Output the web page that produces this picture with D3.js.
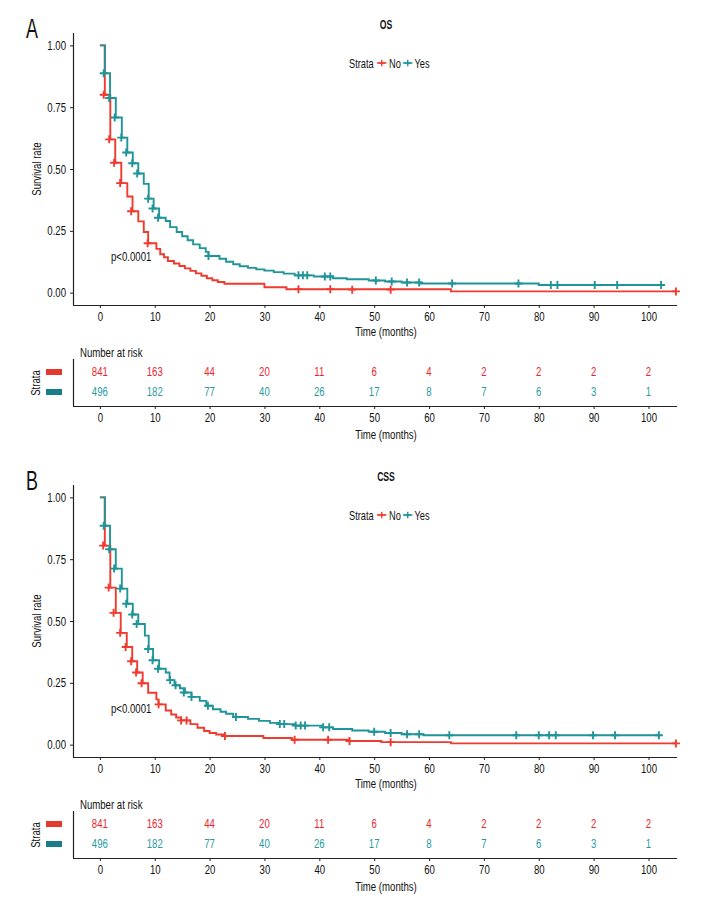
<!DOCTYPE html>
<html><head><meta charset="utf-8">
<script src="https://cdn.jsdelivr.net/npm/d3@7"></script>
<style>
body{margin:0;background:#fff}
svg text{font-family:"Liberation Sans",Arial,sans-serif;fill:#111}
</style></head><body>
<svg id="c" width="720" height="912"></svg>
<script>
// ---------- data ----------
const timeTicks = [0,10,20,30,40,50,60,70,80,90,100];
const survTicks = [0,0.25,0.5,0.75,1];
const survTickLabels = ["0.00","0.25","0.50","0.75","1.00"];
const strataNames = ["No","Yes"];
const panelLetters = ["A","B"];
const panelTitles = ["OS","CSS"];
const pLabel = "p<0.0001";
const riskTimes = [0,10,20,30,40,50,60,70,80,90,100];
const riskNo  = [841,163,44,20,11,6,4,2,2,2,2];
const riskYes = [496,182,77,40,26,17,8,7,6,3,1];

// OS, group "No"
const osNoTime = [0,0.9,1.9,2.8,3.9,5.0,5.95,7.0,8.0,8.8,10.3,11.0,11.7,12.4,13.5,14.5,15.5,16.5,17.5,18.5,19.5,20.5,21.5,22.7,30,34,64];
const osNoSurv = [1,0.80,0.62,0.525,0.443,0.389,0.329,0.288,0.245,0.200,0.177,0.155,0.143,0.128,0.118,0.108,0.098,0.088,0.078,0.068,0.058,0.050,0.043,0.036,0.022,0.014,0.005];
const osNoEnd = 105;
const osNoCensT = [0.7,1.7,2.6,3.7,5.7,8.7,36.2,42,46,53,105];
const osNoCensS = [0.80,0.62,0.525,0.443,0.329,0.200,0.014,0.014,0.012,0.012,0.005];
// OS, group "Yes"
const osYesTime = [0,0.9,1.85,2.9,4.0,5.0,6.0,7.0,8.0,8.9,9.8,10.8,12.0,12.8,14.0,15.0,16.0,17.0,18.2,19.3,19.8,21.8,23.0,24.3,25.5,27.0,28.5,30,31.7,33.5,35.5,39,42.5,45,49,52,55,58.5,80];
const osYesSurv = [1,0.887,0.787,0.708,0.627,0.567,0.523,0.482,0.440,0.380,0.340,0.303,0.290,0.265,0.245,0.228,0.212,0.195,0.180,0.165,0.148,0.137,0.125,0.115,0.107,0.100,0.094,0.089,0.083,0.077,0.070,0.065,0.058,0.054,0.049,0.045,0.041,0.037,0.031];
const osYesEnd = 102.3;
const osYesCensT = [0.7,1.7,2.7,3.9,4.8,5.9,6.8,8.8,9.6,10.6,19.8,36.2,37.0,37.8,41.0,42.0,50.3,53.2,56.0,58.2,64.2,76.3,82.2,83.4,90.2,94.3,102.3];
const osYesCensS = [0.887,0.787,0.708,0.627,0.567,0.523,0.482,0.380,0.340,0.303,0.148,0.070,0.070,0.070,0.065,0.065,0.049,0.045,0.041,0.041,0.037,0.037,0.031,0.031,0.031,0.031,0.031];

// CSS, group "No"
const cssNoTime = [0,0.9,1.9,2.9,3.8,4.9,5.9,6.8,7.8,8.8,10.3,10.7,12.0,13.0,13.9,14.8,16.5,17.8,19.0,20.0,21.2,22.5,29.8,35.0,45.5,51.3,64];
const cssNoSurv = [1,0.805,0.635,0.533,0.452,0.395,0.337,0.292,0.248,0.210,0.183,0.163,0.138,0.122,0.110,0.098,0.083,0.068,0.055,0.047,0.041,0.035,0.027,0.020,0.015,0.010,0.005];
const cssNoEnd = 105;
const cssNoCensT = [0.6,1.6,2.5,3.7,4.7,5.7,6.6,7.6,10.7,14.8,15.8,22.8,35.5,41.6,45.5,53,105];
const cssNoCensS = [0.805,0.635,0.533,0.452,0.395,0.337,0.292,0.248,0.163,0.098,0.098,0.035,0.020,0.020,0.015,0.010,0.005];
// CSS, group "Yes"
const cssYesTime = [0,0.9,1.85,2.9,4.0,5.0,6.0,7.0,8.2,8.9,9.7,10.8,12.0,12.7,13.6,14.6,15.5,16.7,18.2,19.4,20.6,22.0,23.0,24.3,27.0,29.0,31.0,32.5,35.5,40.5,42.5,46,49,52,55,59];
const cssYesSurv = [1,0.885,0.790,0.712,0.631,0.570,0.526,0.488,0.441,0.387,0.341,0.307,0.292,0.261,0.240,0.228,0.211,0.193,0.177,0.157,0.143,0.133,0.125,0.112,0.104,0.096,0.088,0.083,0.077,0.070,0.063,0.057,0.052,0.047,0.042,0.038];
const cssYesEnd = 102;
const cssYesCensT = [0.7,1.7,2.6,3.7,4.8,5.9,6.7,8.8,9.6,10.6,12.8,13.8,15.3,16.7,19.7,24.8,32.8,33.6,35.7,36.6,37.4,40.7,41.8,50,53,56,58.2,63.7,75.9,80,81.9,83.1,89.9,93.9,101.9];
const cssYesCensS = [0.885,0.790,0.712,0.631,0.570,0.526,0.488,0.387,0.341,0.307,0.261,0.240,0.211,0.193,0.157,0.112,0.083,0.083,0.077,0.077,0.077,0.070,0.070,0.052,0.047,0.042,0.042,0.038,0.038,0.038,0.038,0.038,0.038,0.038,0.038];

// ---------- styling ----------
const RED = "#EF3B2F", TEAL = "#1F9499";
const RISK_RED = "#E8262E", RISK_TEAL = "#2A9A9E";
const KEY_RED = "#E5382F", KEY_TEAL = "#177F84";
const FS = 13;

const svg = d3.select("#c");
const x = d3.scaleLinear().domain([-4.9, 105.2]).range([73, 677]);
const crossPath = s => `M${-s},0H${s}M0,${-s}V${s}`;

const panels = [
  {dy:0, no:[osNoTime,osNoSurv,osNoEnd,osNoCensT,osNoCensS], yes:[osYesTime,osYesSurv,osYesEnd,osYesCensT,osYesCensS]},
  {dy:452, no:[cssNoTime,cssNoSurv,cssNoEnd,cssNoCensT,cssNoCensS], yes:[cssYesTime,cssYesSurv,cssYesEnd,cssYesCensT,cssYesCensS]}
];

panels.forEach((p, pi) => {
  const g = svg.append("g").attr("transform", `translate(0,${p.dy})`);
  const y = d3.scaleLinear().domain([-0.05, 1.05]).range([305, 33]);

  // panel letter & title
  g.append("text").attr("x", 26).attr("y", 38.5).attr("font-size", 28).attr("data-sx",0.64).text(panelLetters[pi]);
  g.append("text").attr("x", 386).attr("y", 29).attr("text-anchor","middle")
    .attr("font-size", 12).attr("font-weight","bold").attr("data-sx",0.72).text(panelTitles[pi]);

  // axes
  const xAxis = d3.axisBottom(x).tickValues(timeTicks).tickSize(3).tickPadding(4);
  const yAxis = d3.axisLeft(y).tickValues(survTicks).tickFormat((d,i)=>survTickLabels[i]).tickSize(3).tickPadding(4);
  const gx = g.append("g").attr("transform","translate(0,305)").call(xAxis);
  const gy = g.append("g").attr("transform","translate(73,0)").call(yAxis);
  [gx, gy].forEach(a => {
    a.select(".domain").attr("stroke","#222").attr("stroke-width",1.2);
    a.selectAll(".tick line").attr("stroke","#222").attr("stroke-width",1);
    a.selectAll(".tick text").attr("font-size",FS).attr("fill","#222")
      .style("font-family",'"Liberation Sans",Arial,sans-serif');
  });
  gx.select(".domain").attr("d", `M73,0.5H677`);
  gy.select(".domain").attr("d", `M0.5,33V305`);

  g.append("text").attr("x", 386).attr("y", 336).attr("text-anchor","middle").attr("font-size",FS).text("Time (months)");
  g.append("text").attr("transform","translate(41,169) rotate(-90)").attr("text-anchor","middle").attr("font-size",FS).text("Survival rate");

  // curves
  const line = d3.line().x(d=>x(d[0])).y(d=>y(d[1])).curve(d3.curveStepAfter);
  [[p.no, RED],[p.yes, TEAL]].forEach(([s, col]) => {
    const [T,S,end,CT,CS] = s;
    const pts = T.map((t,i)=>[t,S[i]]);
    pts.push([end, S[S.length-1]]);
    g.append("path").attr("d", line(pts)).attr("fill","none").attr("stroke",col).attr("stroke-width",1.9);
    g.selectAll(null).data(CT.map((t,i)=>[t,CS[i]])).enter().append("path")
      .attr("transform", d=>`translate(${x(d[0])},${y(d[1])})`)
      .attr("d", crossPath(4)).attr("stroke", col).attr("stroke-width",1.9).attr("fill","none");
  });

  // p value
  g.append("text").attr("x",111).attr("y",261.5).attr("font-size",FS).text(pLabel);

  // legend
  const lg = g.append("g").attr("transform","translate(0,63)");
  lg.append("text").attr("x",349).attr("y",4.5).attr("font-size",12.5).text("Strata");
  const keys = [[377, RED, strataNames[0], 389],[403, TEAL, strataNames[1], 414.5]];
  keys.forEach(([kx,col,lab,tx])=>{
    lg.append("line").attr("x1",kx).attr("x2",kx+9.5).attr("y1",0).attr("y2",0).attr("stroke",col).attr("stroke-width",1.4);
    lg.append("path").attr("transform",`translate(${kx+4.75},0)`).attr("d",crossPath(3.3)).attr("stroke",col).attr("stroke-width",1.4);
    lg.append("text").attr("x",tx).attr("y",4.5).attr("font-size",12.5).text(lab);
  });

  // risk table
  const rowY = [371, 391];
  g.append("text").attr("x",80).attr("y",357.5).attr("font-size",FS).text("Number at risk");
  const rxAxis = d3.axisBottom(x).tickValues(timeTicks).tickSize(3).tickPadding(4);
  const grx = g.append("g").attr("transform","translate(0,406)").call(rxAxis);
  grx.select(".domain").attr("d","M73,0.5H677").attr("stroke","#222").attr("stroke-width",1.2);
  grx.selectAll(".tick line").attr("stroke","#222");
  grx.selectAll(".tick text").attr("font-size",FS).attr("fill","#222")
    .style("font-family",'"Liberation Sans",Arial,sans-serif');
  g.append("line").attr("x1",73.5).attr("x2",73.5).attr("y1",359).attr("y2",406).attr("stroke","#222").attr("stroke-width",1.2);
  g.append("text").attr("x", 386).attr("y", 439).attr("text-anchor","middle").attr("font-size",FS).text("Time (months)");
  g.append("text").attr("transform","translate(40,383) rotate(-90)").attr("text-anchor","middle").attr("font-size",FS).text("Strata");
  [[riskNo, RISK_RED, KEY_RED],[riskYes, RISK_TEAL, KEY_TEAL]].forEach(([vals,col,kcol],ri)=>{
    g.append("rect").attr("x",46).attr("y",rowY[ri]-2).attr("width",16).attr("height",6).attr("fill",kcol);
    g.selectAll(null).data(vals).enter().append("text")
      .attr("x",(d,i)=>x(riskTimes[i])).attr("y",rowY[ri]+4.7)
      .attr("text-anchor","middle").attr("font-size",FS).style("fill",col).text(d=>d);
  });
});

// condense all text horizontally (reference uses a condensed typeface)
svg.selectAll("text").each(function(){
  const el = d3.select(this);
  const s = +(el.attr("data-sx") || 0.74);
  const ax = +(el.attr("x") || 0);
  const tr = el.attr("transform") || "";
  el.attr("transform", `${tr} translate(${ax},0) scale(${s},1) translate(${-ax},0)`);
});
</script>
</body></html>
